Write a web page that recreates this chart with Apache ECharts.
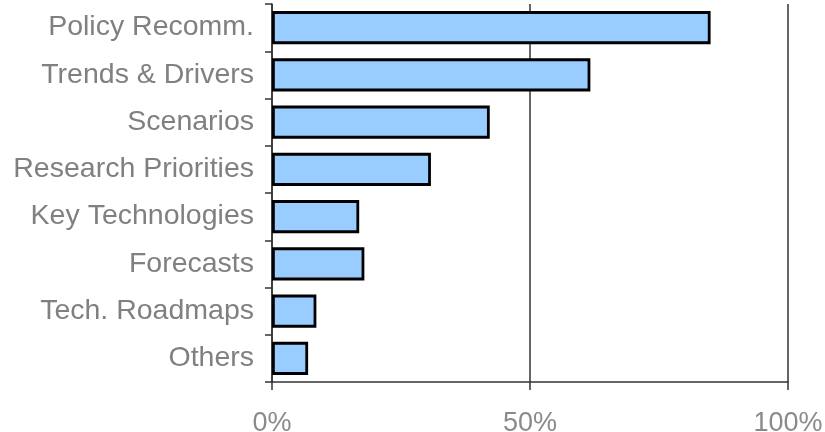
<!DOCTYPE html>
<html>
<head>
<meta charset="utf-8">
<style>
html,body{margin:0;padding:0;background:#fff;}
#chart{width:825px;height:432px;}
</style>
<script src="https://cdn.jsdelivr.net/npm/echarts@6/dist/echarts.min.js"></script>
</head>
<body>
<div id="chart"></div>
<script>
const categories = ["Policy Recomm.", "Trends & Drivers", "Scenarios", "Research Priorities", "Key Technologies", "Forecasts", "Tech. Roadmaps", "Others"];
const values = [85.0, 61.7, 42.2, 30.8, 16.9, 17.9, 8.6, 7.0];
const xTicks = [0, 50, 100];

const chart = echarts.init(document.getElementById('chart'), null, {renderer: 'canvas'});
chart.setOption({
  animation: false,
  backgroundColor: '#ffffff',
  grid: {left: 272, right: 37, top: 4, bottom: 50, containLabel: false, outerBoundsMode: 'none'},
  xAxis: {
    type: 'value',
    min: xTicks[0], max: xTicks[xTicks.length - 1], interval: 50,
    axisLine: {show: true, lineStyle: {color: '#333', width: 1.5}},
    axisTick: {show: true, length: 8, lineStyle: {color: '#333', width: 1.5}},
    splitLine: {show: true, lineStyle: {color: '#333', width: 1.5}},
    axisLabel: {
      formatter: v => v + '%',
      color: '#8a8a8a', fontSize: 27, fontFamily: 'Liberation Sans, Arial, sans-serif',
      margin: 28
    }
  },
  yAxis: {
    type: 'category',
    data: categories,
    inverse: true,
    axisLine: {show: true, lineStyle: {color: '#333', width: 1.5}},
    axisTick: {show: true, length: 7, lineStyle: {color: '#333', width: 1.5}},
    axisLabel: {
      color: '#808080', fontSize: 28.5, fontFamily: 'Liberation Sans, Arial, sans-serif',
      margin: 18
    }
  },
  series: [{
    type: 'bar',
    data: values,
    barCategoryGap: '30%',
    itemStyle: {color: '#99ccff', borderColor: '#000', borderWidth: 2.8},
    silent: true
  }]
});
</script>
</body>
</html>
